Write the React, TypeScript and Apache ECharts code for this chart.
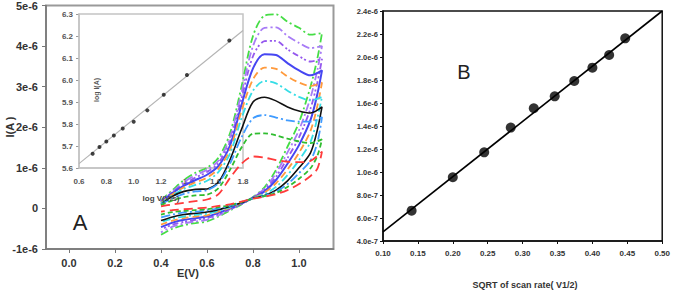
import React, { useEffect, useRef } from "react";
import * as echarts from "echarts";

// ---------- Panel A: cyclic voltammograms (current in units of 1e-6 A) ----------
const E_FWD = [0.40, 0.45, 0.50, 0.55, 0.60, 0.65, 0.70, 0.75, 0.80, 0.85, 0.90, 0.95, 1.00, 1.05, 1.10];
const E_REV = [1.08, 1.05, 1.00, 0.95, 0.90, 0.85, 0.80, 0.75, 0.70, 0.65, 0.60, 0.55, 0.50, 0.45, 0.40];

const CV_FWD = [
  [0.20, 0.45, 0.70, 0.88, 1.00, 1.25, 1.85, 3.00, 4.25, 4.75, 4.78, 4.60, 4.45, 4.28, 4.32],
  [0.18, 0.42, 0.65, 0.82, 0.95, 1.18, 1.75, 2.85, 4.00, 4.45, 4.46, 4.25, 4.08, 3.95, 4.00],
  [0.17, 0.40, 0.60, 0.76, 0.90, 1.12, 1.65, 2.70, 3.75, 4.12, 4.13, 3.92, 3.75, 3.62, 3.68],
  [0.15, 0.38, 0.56, 0.70, 0.83, 1.05, 1.55, 2.55, 3.45, 3.80, 3.78, 3.58, 3.40, 3.28, 3.40],
  [0.14, 0.35, 0.52, 0.64, 0.76, 0.98, 1.45, 2.40, 3.18, 3.47, 3.44, 3.25, 3.10, 3.02, 3.10],
  [0.13, 0.32, 0.48, 0.58, 0.68, 0.90, 1.35, 2.22, 2.90, 3.14, 3.08, 2.90, 2.75, 2.66, 2.75],
  [0.10, 0.30, 0.42, 0.47, 0.48, 0.65, 1.20, 1.95, 2.62, 2.74, 2.65, 2.50, 2.40, 2.35, 2.50],
  [0.10, 0.25, 0.36, 0.42, 0.45, 0.62, 1.10, 1.75, 2.22, 2.30, 2.24, 2.17, 2.14, 2.14, 2.25],
  [0.08, 0.20, 0.28, 0.32, 0.34, 0.50, 0.95, 1.50, 1.84, 1.85, 1.80, 1.72, 1.65, 1.61, 1.70],
  [0.05, 0.10, 0.14, 0.18, 0.22, 0.35, 0.75, 1.10, 1.28, 1.25, 1.19, 1.15, 1.14, 1.17, 1.40],
];

const CV_REV = [
  [3.70, 3.00, 2.12, 1.52, 0.95, 0.52, 0.28, 0.10, -0.05, -0.20, -0.32, -0.36, -0.41, -0.50, -0.65],
  [3.41, 2.73, 1.93, 1.38, 0.87, 0.49, 0.27, 0.11, -0.03, -0.17, -0.28, -0.32, -0.37, -0.45, -0.59],
  [3.11, 2.46, 1.75, 1.24, 0.78, 0.46, 0.27, 0.12, -0.02, -0.14, -0.24, -0.28, -0.33, -0.40, -0.52],
  [2.82, 2.18, 1.56, 1.10, 0.70, 0.42, 0.26, 0.12, 0.00, -0.11, -0.20, -0.24, -0.28, -0.35, -0.46],
  [2.53, 1.91, 1.37, 0.96, 0.62, 0.39, 0.26, 0.13, 0.01, -0.08, -0.17, -0.20, -0.24, -0.30, -0.40],
  [2.23, 1.64, 1.19, 0.82, 0.53, 0.35, 0.25, 0.14, 0.03, -0.06, -0.13, -0.16, -0.20, -0.25, -0.34],
  [1.94, 1.37, 1.00, 0.68, 0.45, 0.32, 0.25, 0.14, 0.05, -0.03, -0.09, -0.12, -0.15, -0.21, -0.30],
  [1.62, 1.18, 0.87, 0.60, 0.42, 0.31, 0.25, 0.15, 0.06, 0.00, -0.05, -0.08, -0.10, -0.15, -0.22],
  [1.30, 0.99, 0.73, 0.53, 0.38, 0.30, 0.24, 0.16, 0.08, 0.03, -0.02, -0.04, -0.06, -0.09, -0.15],
  [0.98, 0.80, 0.60, 0.45, 0.35, 0.29, 0.24, 0.17, 0.10, 0.06, 0.02, 0.00, -0.02, -0.04, -0.08],
];

const CV_COLORS = ["#45dd45", "#a87cf6", "#9558ee", "#4646f2", "#ff9a3c", "#36dde6", "#111111", "#3f9bff", "#30bd30", "#ff3b3b"];
const CV_DASH: (string | number[])[] = [
  [8, 3, 2, 3],
  [8, 3, 2, 3],
  [6, 3, 2, 2, 2, 3],
  "solid",
  [7, 4],
  [8, 3, 2, 3],
  "solid",
  [9, 3, 2, 3],
  [5, 3],
  [9, 5],
];
const CV_WIDTH = [1.8, 1.8, 1.8, 2, 1.8, 1.8, 1.6, 1.8, 1.8, 1.8];

const A_X_TICKS = [0.0, 0.2, 0.4, 0.6, 0.8, 1.0];

// ---------- Inset: log I vs log V ----------
const LOG_V = [0.70, 0.75, 0.80, 0.855, 0.92, 1.00, 1.10, 1.22, 1.39, 1.70];
const LOG_I = [5.665, 5.695, 5.72, 5.748, 5.78, 5.81, 5.862, 5.933, 6.023, 6.18];
const LOG_FIT = [[0.6, 5.62], [1.8, 6.225]];

// ---------- Panel B: peak current vs square root of scan rate ----------
const SQRT_RATE = [0.141, 0.200, 0.245, 0.283, 0.316, 0.346, 0.374, 0.400, 0.424, 0.447];
const PEAK_I = [6.64e-7, 9.54e-7, 1.171e-6, 1.386e-6, 1.554e-6, 1.658e-6, 1.791e-6, 1.907e-6, 2.017e-6, 2.162e-6];
const PEAK_FIT = [[0.10, 4.8e-7], [0.50, 2.4e-6]];

const FONT = "'Liberation Sans', Arial, sans-serif";
const B_UNIT = 1e-7;

export default function App() {
  const ref = useRef<HTMLDivElement>(null);

  useEffect(() => {
    if (!ref.current) return;
    const chart = echarts.init(ref.current, null, { renderer: "svg" });

    const cvSeries = CV_FWD.map((fwd, i) => {
      const data = [
        ...E_FWD.map((e, k) => [e, fwd[k]]),
        ...E_REV.map((e, k) => [e, CV_REV[i][k]]),
      ];
      return {
        type: "line",
        xAxisIndex: 0,
        yAxisIndex: 0,
        data,
        smooth: 0.3,
        showSymbol: false,
        z: 5,
        lineStyle: { color: CV_COLORS[i], width: CV_WIDTH[i], type: CV_DASH[i] },
      };
    });

    const boldLabel = (size: number, color: string) => ({
      fontFamily: FONT,
      fontSize: size,
      fontWeight: "bold" as const,
      color,
    });

    const text = (t: string, x: number, y: number, size: number, opts: any = {}) => ({
      type: "text",
      x,
      y,
      rotation: opts.rotation || 0,
      z: 20,
      style: {
        text: t,
        fontFamily: FONT,
        fontSize: size,
        fontWeight: opts.weight || "bold",
        fill: opts.fill || "#333",
        align: "center",
        verticalAlign: "middle",
      },
    });

    chart.setOption({
      animation: false,
      backgroundColor: "#fff",
      grid: [
        { left: 46, top: 5, width: 287.5, height: 244, show: true, borderColor: "#9a9a9a", borderWidth: 2, z: 0 },
        { left: 79, top: 14, width: 164, height: 154, show: true, borderColor: "#c4c4c4", borderWidth: 1.5, z: 1 },
        { left: 383, top: 11, width: 282, height: 230, show: true, borderColor: "#111", borderWidth: 1.5 },
      ],
      xAxis: [
        {
          gridIndex: 0,
          type: "value",
          min: -0.1,
          max: 1.15,
          axisLine: { onZero: false, lineStyle: { color: "#777", width: 1.5 } },
          axisTick: { show: true, customValues: A_X_TICKS, length: 4, lineStyle: { color: "#777" } },
          axisLabel: { customValues: A_X_TICKS, margin: 8, formatter: (v: number) => v.toFixed(1), ...boldLabel(11, "#333") },
          splitLine: { show: false },
        },
        {
          gridIndex: 1,
          type: "value",
          min: 0.6,
          max: 1.8,
          interval: 0.2,
          axisLine: { onZero: false, lineStyle: { color: "#c4c4c4", width: 1.5 } },
          axisTick: { show: false },
          axisLabel: { margin: 9, formatter: (v: number) => v.toFixed(1), ...boldLabel(8, "#555") },
          splitLine: { show: false },
        },
        {
          gridIndex: 2,
          type: "value",
          min: 0.1,
          max: 0.5,
          interval: 0.05,
          axisLine: { onZero: false, lineStyle: { color: "#111", width: 1.5 } },
          axisTick: { show: true, length: 3, lineStyle: { color: "#111" } },
          axisLabel: { margin: 8, formatter: (v: number) => v.toFixed(2), ...boldLabel(8, "#333") },
          splitLine: { show: false },
        },
      ],
      yAxis: [
        {
          gridIndex: 0,
          type: "value",
          min: -1,
          max: 5,
          interval: 1,
          axisLine: { onZero: false, lineStyle: { color: "#777", width: 1.5 } },
          axisTick: { show: true, length: 4, lineStyle: { color: "#777" } },
          axisLabel: {
            margin: 8,
            formatter: (v: number) => (v === 0 ? "0" : `${v}e-6`),
            ...boldLabel(11, "#333"),
          },
          splitLine: { show: false },
        },
        {
          gridIndex: 1,
          type: "value",
          min: 5.6,
          max: 6.3,
          interval: 0.1,
          axisLine: { onZero: false, lineStyle: { color: "#c4c4c4", width: 1.5 } },
          axisTick: { show: true, length: 3, lineStyle: { color: "#999" } },
          axisLabel: { margin: 6, formatter: (v: number) => v.toFixed(1), ...boldLabel(8, "#555") },
          splitLine: { show: false },
        },
        {
          gridIndex: 2,
          type: "value",
          min: 4,
          max: 24,
          interval: 2,
          axisLine: { onZero: false, lineStyle: { color: "#111", width: 1.5 } },
          axisTick: { show: true, length: 3, lineStyle: { color: "#111" } },
          axisLabel: {
            margin: 5,
            formatter: (v: number) =>
              v < 10 ? `${v.toFixed(1)}e-7` : `${(v / 10).toFixed(1)}e-6`,
            ...boldLabel(7.5, "#333"),
          },
          splitLine: { show: false },
        },
      ],
      series: [
        {
          type: "line",
          xAxisIndex: 1,
          yAxisIndex: 1,
          data: LOG_FIT,
          showSymbol: false,
          z: 2,
          lineStyle: { color: "#b4b4b4", width: 1.2 },
        },
        {
          type: "scatter",
          xAxisIndex: 1,
          yAxisIndex: 1,
          data: LOG_V.map((v, i) => [v, LOG_I[i]]),
          symbolSize: 4,
          z: 3,
          itemStyle: { color: "#111" },
        },
        ...cvSeries,
        {
          type: "line",
          xAxisIndex: 2,
          yAxisIndex: 2,
          data: PEAK_FIT.map(([x, y]) => [x, y / B_UNIT]),
          showSymbol: false,
          lineStyle: { color: "#000", width: 1.6 },
        },
        {
          type: "scatter",
          xAxisIndex: 2,
          yAxisIndex: 2,
          data: SQRT_RATE.map((x, i) => [x, PEAK_I[i] / B_UNIT]),
          symbolSize: 10,
          z: 4,
          itemStyle: { color: "#000" },
        },
      ],
      graphic: [
        text("I(A )", 10, 127, 11, { rotation: Math.PI / 2 }),
        text("E(V)", 188, 273, 11),
        text("A", 80, 222, 22, { weight: "normal", fill: "#222" }),
        text("log I(A)", 96, 90, 7, { rotation: Math.PI / 2, fill: "#555" }),
        text("log V(V/s)", 161, 198, 8, { fill: "#444" }),
        text("B", 464, 72, 20, { weight: "normal", fill: "#222" }),
        text("SQRT of scan rate( V1/2)", 525, 285, 9, { fill: "#333" }),
      ],
    });

    return () => chart.dispose();
  }, []);

  return (
    <div
      ref={ref}
      style={{ position: "fixed", left: 0, top: 0, width: 673, height: 292, background: "#fff" }}
    />
  );
}
